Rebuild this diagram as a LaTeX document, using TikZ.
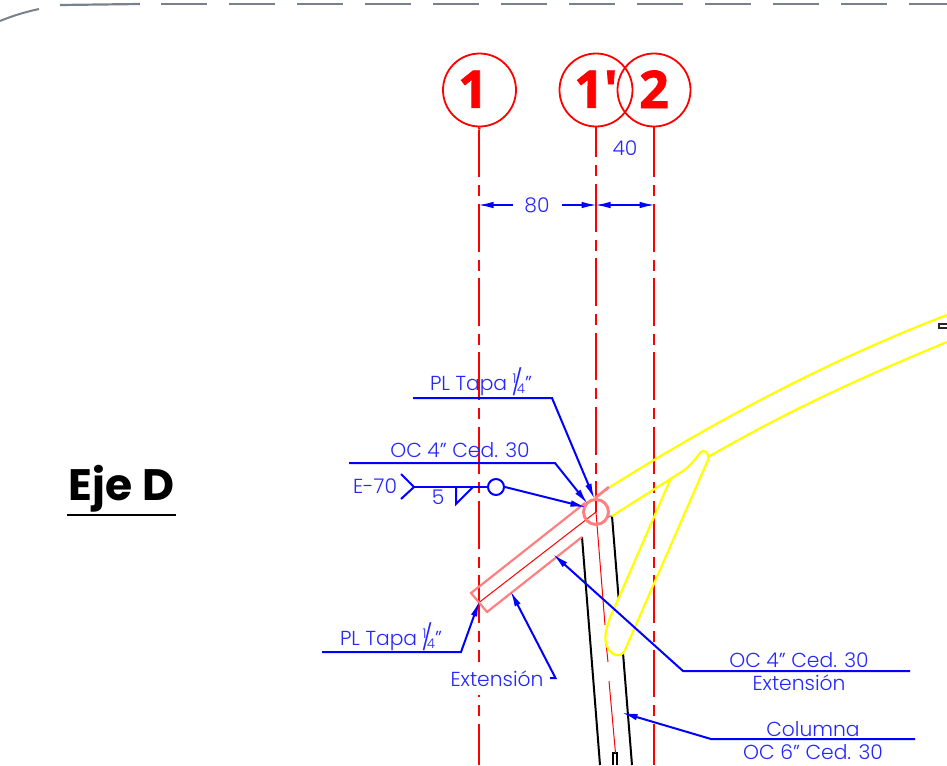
\documentclass[tikz,border=0pt]{standalone}
\usepackage{fontspec}
\setmainfont{Poppins}[UprightFont=* Light]
\newfontfamily\axisfont{Open Sans}[BoldFeatures={FakeBold=1.5}]
\newfontfamily\titlefont{Poppins Bold}
\usetikzlibrary{arrows.meta}
\newlength{\du}
\setlength{\du}{0.75pt}
\definecolor{axisred}{rgb}{1.000000, 0.000000, 0.000000}
\definecolor{dimblue}{rgb}{0.000000, 0.000000, 1.000000}
\definecolor{labelblue}{rgb}{0.150000, 0.150000, 1.000000}
\definecolor{platepink}{rgb}{1.000000, 0.500000, 0.500000}
\definecolor{beamyellow}{rgb}{1.000000, 1.000000, 0.000000}
\definecolor{framegray}{rgb}{0.470000, 0.510000, 0.550000}
\newcommand{\quarterfrac}{\raisebox{.62ex}{\fontsize{10}{10}\selectfont 1}\kern-.24em\raisebox{-.12ex}{\fontsize{19}{19}\selectfont /}\kern-.3em\raisebox{-.3ex}{\fontsize{10}{10}\selectfont 4}}
\tikzset{
  axisbubble/.style={draw=axisred,line width=1.8\du,circle,minimum size=73\du,inner sep=0pt,
    text=axisred,font=\axisfont\bfseries\fontsize{39}{39}\selectfont},
  axisline/.style={draw=axisred,line width=2.4\du,dash pattern=on 47.7\du off 8\du on 11\du off 7.6\du},
  leader/.style={draw=dimblue,line width=2\du},
  leaderarrow/.style={leader,shorten >=-1.5\du,-{Latex[length=12pt,width=4.9pt]}},
  cadtext/.style={text=labelblue,font=\fontsize{15.2}{15.2}\selectfont,inner sep=0pt},
  platepen/.style={draw=platepink,line width=2.2\du},
  beampen/.style={draw=beamyellow,line width=2.2\du},
  columnpen/.style={draw=black,line width=2\du},
  centerpen/.style={draw=axisred,line width=1\du}
}
\begin{document}
\begin{tikzpicture}[x=\du,y=-\du]
\useasboundingbox (0,0) rectangle (947,765);
% frame
\draw[framegray,line width=2\du] (0,21) .. controls (12,16) and (25,12) .. (39,9);
\draw[framegray,line width=2.2\du] (60,5) -- (140,4);
\draw[framegray,line width=2.2\du,dash pattern=on 46\du off 22\du] (161,4) -- (947,4);
% axes
\node[axisbubble] (ax1) at (479.5,90) {\raisebox{1.5\du}{1\kern13\du}};
\node[axisbubble] (ax1p) at (596,90) {\raisebox{1.5\du}{1'}};
\node[axisbubble] (ax2) at (654,90) {\raisebox{1.5\du}{2}};
\coordinate (ax1top) at (479,129.5);
\coordinate (ax1end) at (479,765);
\coordinate (ax2top) at (654,129.5);
\coordinate (ax2end) at (654,765);
\coordinate (ax1pend) at (596,512);
\draw[draw=axisred,line width=2.4\du] (ax1.south) -- (ax1top);
\draw[draw=axisred,line width=2.4\du] (ax2.south) -- (ax2top);
\draw[axisline] (ax1top) -- (ax1end);
\draw[axisline] (ax2top) -- (ax2end);
\draw[axisline,dash phase=17.7\du] (ax1p.south) -- (ax1pend);
% dimensions
\node[cadtext] (dim80) at (537,205) {80};
\node[cadtext] (dim40) at (625,148) {40};
\coordinate (d1) at (479,205);
\coordinate (d1p) at (596,205);
\coordinate (d2) at (654,205);
\coordinate (d40) at (625,205);
\draw[leaderarrow] (513,205) -- (d1);
\draw[leaderarrow] (562,205) -- (d1p);
\draw[leaderarrow] (d40) -- (d1p);
\draw[leaderarrow] (d40) -- (d2);
% title
\node[inner sep=0pt,font=\titlefont\fontsize{33}{33}\selectfont] (title) at (121.5,489) {Eje D};
\coordinate (titleL) at (67,515);
\coordinate (titleR) at (176,515);
\draw[black,line width=2\du] (titleL) -- (titleR);
% column
\coordinate (colLa) at (582,537);
\coordinate (colLb) at (600,765);
\coordinate (colRa) at (612,516);
\coordinate (colRb) at (618.6,598);
\coordinate (colRc) at (623,653);
\coordinate (colRd) at (632,765);
\draw[columnpen] (colLa) -- (colLb);
\draw[columnpen] (colRa) -- (colRb);
\draw[columnpen] (colRc) -- (colRd);
\draw[framegray,line width=1.5\du] (607,517) -- (colRa);
\draw[black,line width=1.6\du] (613,765) -- (613,753) -- (617,753) -- (617,765);
\draw[black!85,line width=2\du] (947,323.5) -- (938.5,323.5) -- (938.5,327.5) -- (947,327.5);
% center lines
\coordinate (cc) at (596,512);
\draw[centerpen] (cc) -- (605,625);
\draw[centerpen] (606,643) -- (608,662);
\draw[centerpen] (609,681) -- (615.5,753);
\draw[centerpen] (479,602.5) -- (cc);
% extension plate
\node[draw=platepink,line width=3\du,circle,minimum size=25\du,inner sep=0pt] (joint) at (cc) {};
\draw[platepen] (585,503) -- (471,593) -- (487,612) -- (582,537);
\draw[platepen,line width=2.8\du] (595,498) -- (609,487);
% truss
\draw[beampen] (610,487) .. controls (720,418) and (830,360) .. (947,315);
\draw[beampen] (612,516) -- (683,471) .. controls (690,466) and (694,461) .. (700,453)
  .. controls (704,448) and (710,453) .. (708,460) -- (625,650)
  .. controls (622,656) and (618,657) .. (612,653) .. controls (603,645) and (604,634) .. (610,618) -- (671,478);
\draw[beampen] (708,457) .. controls (790,410) and (860,378) .. (947,342);
% labels
\node[cadtext] (tapatop) at (481,382) {PL Tapa \quarterfrac"};
\coordinate (tapatopL) at (413,398);
\coordinate (tapatopK) at (552,398);
\coordinate (tapatopT) at (594,498);
\draw[leaderarrow] (tapatopL) -- (tapatopK) -- (tapatopT);
\node[cadtext] (octop) at (460,450) {OC 4" Ced. 30};
\coordinate (octopL) at (349,463);
\coordinate (octopK) at (555,463);
\coordinate (octopT) at (587,503);
\draw[leaderarrow] (octopL) -- (octopK) -- (octopT);
% weld symbol
\node[cadtext] (e70) at (375,486) {E-70};
\node[cadtext] (weld5) at (438,497) {5};
\node[draw=dimblue,line width=2\du,circle,minimum size=16\du,inner sep=0pt] (weldring) at (496,487) {};
\coordinate (tailA) at (401,474);
\coordinate (tailK) at (414,487);
\coordinate (tailB) at (401,499);
\coordinate (weldT) at (585,507);
\draw[leader] (tailA) -- (tailK) -- (tailB);
\draw[leader] (tailK) -- (weldring.west);
\draw[leader] (456,487) -- (456,504) -- (473,487);
\draw[leaderarrow] (weldring.east) -- (weldT);
% lower labels
\node[cadtext] (tapalow) at (391,637) {PL Tapa \quarterfrac"};
\coordinate (tapalowL) at (322,652);
\coordinate (tapalowK) at (461,652);
\coordinate (tapalowT) at (479,602);
\draw[leaderarrow] (tapalowL) -- (tapalowK) -- (tapalowT);
\node[cadtext,fill=white,minimum height=33\du] (extlabel) at (497,678.5) {Extensión};
\coordinate (extL) at (550,678);
\coordinate (extK) at (555.5,678);
\coordinate (extT) at (511,592);
\draw[leaderarrow] (extL) -- (extK) -- (extT);
\node[cadtext] (ocext) at (799,660) {OC 4" Ced. 30};
\node[cadtext] (ocextb) at (799,683) {Extensión};
\coordinate (ocextR) at (910,671);
\coordinate (ocextK) at (683,671);
\coordinate (ocextT) at (554,555);
\draw[leaderarrow] (ocextR) -- (ocextK) -- (ocextT);
\node[cadtext] (collabel) at (813,729) {Columna};
\node[cadtext] (collabelb) at (813,752.5) {OC 6" Ced. 30};
\coordinate (colR) at (915,739);
\coordinate (colK) at (711,739);
\coordinate (colT) at (623,713);
\draw[leaderarrow] (colR) -- (colK) -- (colT);
\end{tikzpicture}
\end{document}
